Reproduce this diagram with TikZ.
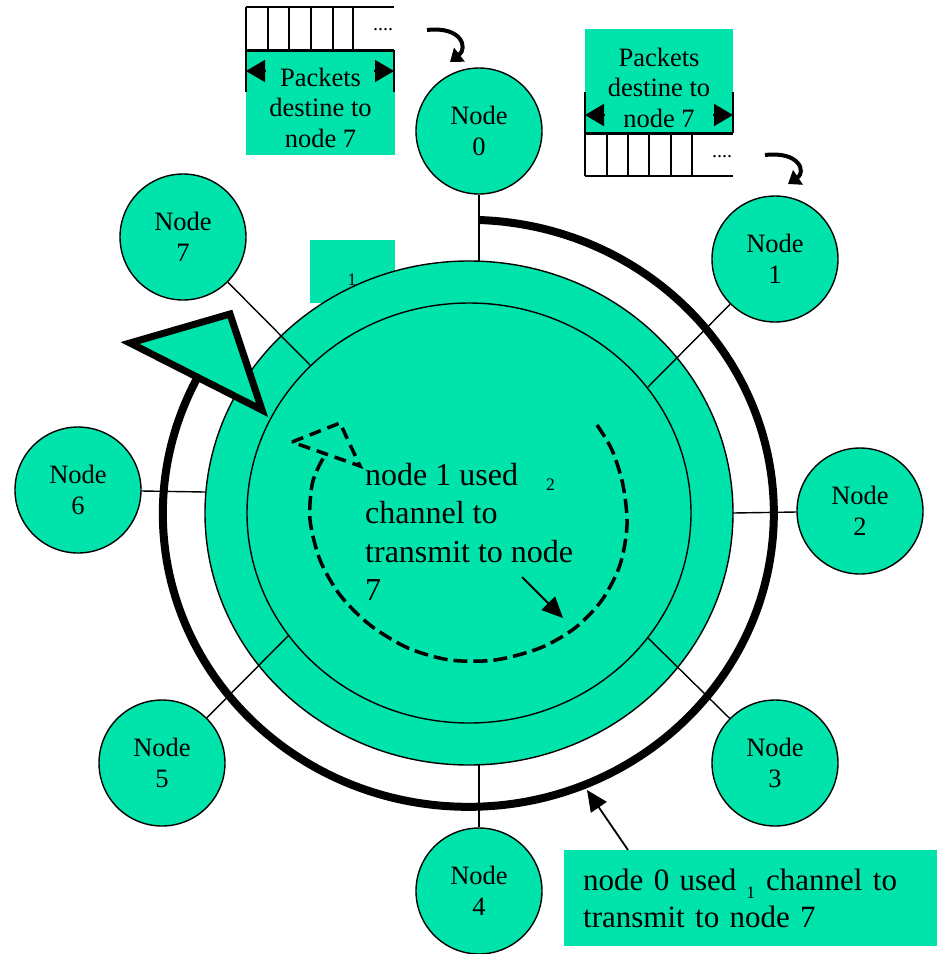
\documentclass[tikz,border=0pt]{standalone}
\usepackage{fontspec}
\setmainfont{Liberation Serif}
\usetikzlibrary{positioning,arrows.meta}
\definecolor{ringgreen}{RGB}{0,227,170}

\begin{document}
\begin{tikzpicture}[x=1pt,y=-1pt,
	station/.style={circle,draw=black,line width=1.4pt,fill=ringgreen,minimum size=126pt,inner sep=0pt,align=center,font=\fontsize{26.5}{31}\selectfont},
	link/.style={line width=1.4pt},
	tagtext/.style={inner sep=0pt,align=center,font=\fontsize{26.5}{30.5}\selectfont},
	cell/.style={line width=2pt},
	dimhead/.style={line width=1.5pt,-{Triangle[length=19pt,width=22pt]}},
	curlarrow/.style={line width=4pt,-{Triangle[length=12pt,width=17pt]}},
	dash line/.style={line width=3.5pt,dash pattern=on 14pt off 6pt}]

			\useasboundingbox (0,0) rectangle (937,954);

			%box behind the ring
			\fill[ringgreen] (310,240) rectangle (395,303);

			%ring
			\filldraw[fill=ringgreen,line width=1.4pt] (469,513) ellipse [x radius=264pt,y radius=252pt];
			\draw[line width=1.4pt] (469,513) ellipse [x radius=222pt,y radius=210pt];
			\node[inner sep=0pt,anchor=base,font=\fontsize{17.5}{17.5}\selectfont] (lam1) at (352,285) {1};

			%ring points
			\coordinate (r0) at (479,261);
			\coordinate (r1) at (648,387);
			\coordinate (r2) at (733,513);
			\coordinate (r3) at (648,638);
			\coordinate (r4) at (479,765);
			\coordinate (r5) at (289,635);
			\coordinate (r6) at (205,492);
			\coordinate (r7) at (310,365);

			%nodes
			\node[station] (n0) at (479,131) {Node\\0};
			\node[station] (n1) at (775,259) {Node\\1};
			\node[station] (n2) at (860,511) {Node\\2};
			\node[station] (n3) at (775,763) {Node\\3};
			\node[station] (n4) at (479,891) {Node\\4};
			\node[station] (n5) at (162,763) {Node\\5};
			\node[station] (n6) at (78,490) {Node\\6};
			\node[station] (n7) at (183,237) {Node\\7};

			%edges
			\draw[link] (n0) -- (r0);
			\draw[link] (n1) -- (r1);
			\draw[link] (n2) -- (r2);
			\draw[link] (n3) -- (r3);
			\draw[link] (n4) -- (r4);
			\draw[link] (n5) -- (r5);
			\draw[link] (n6) -- (r6);
			\draw[link] (n7) -- (r7);

			%lambda 1 path of node 0
			\draw[line width=8pt] (479,220) arc[start angle=88,end angle=-208,x radius=305.5pt,y radius=293.5pt];
			\filldraw[fill=ringgreen,line width=7pt] (130,343) -- (230,314) -- (262,410) -- cycle;

			%lambda 2 path of node 1
			\draw[dash line] plot[smooth] coordinates {(597,425) (612,450) (623,485) (627,525) (620,565) (602,600) (575,628) (540,648) (495,660) (450,660) (408,648) (370,625) (340,595) (320,560) (310,520) (312,485) (319,466) (326,454)};
			\draw[line width=3.5pt,dash pattern=on 12pt off 7pt] (292,442) -- (340,423) -- (360,466) -- cycle;

			\node[inner sep=0pt,anchor=north west,align=left,font=\fontsize{32}{38.5}\selectfont] (msg1) at (365,463)
				{node 1 used\hspace{28pt}\raisebox{-5pt}{\fontsize{17.5}{17.5}\selectfont 2}\\channel to\\transmit to node\\7};
			\coordinate (m1a) at (522,577);
			\coordinate (m1b) at (563,618);
			\draw[line width=1.8pt,-{Triangle[length=21pt,width=19pt]}] (m1a) -- (m1b);

			%note of node 0
			\node[fill=ringgreen,anchor=north west,minimum width=373pt,minimum height=96pt,text width=335pt,inner xsep=19pt,inner ysep=0pt,align=left,font=\fontsize{31}{37}\selectfont] (note0) at (564,850)
				{node 0 used\hspace{10pt}\raisebox{-8pt}{\fontsize{17.5}{17.5}\selectfont 1}\hspace{11pt}channel to\\transmit to node 7};
			\coordinate (arc0) at (587,790);
			\draw[line width=1.8pt,-{Triangle[length=21pt,width=19pt]}] (note0.north west) ++(64,0) -- (arc0);

			%queue of node 0
			\fill[ringgreen] (246,50) rectangle (395,155);
			\draw[cell] (246,7) -- (394,7);
			\draw[line width=3pt] (246,50) -- (394,50);
			\foreach \x in {246,268,289,311,333,353}
				\draw[cell] (\x,7) -- (\x,50);
			\node[inner sep=0pt,anchor=base,font=\fontsize{20}{20}\selectfont] (dotsA) at (383,30) {....};
			\draw[cell] (246,50) -- (246,92);
			\draw[cell] (394,50) -- (394,92);
			\draw[dimhead] (266,71) -- (246,71);
			\draw[dimhead] (374,71) -- (394,71);
			\node[tagtext] (pkA) at (320.5,107.5) {Packets\\destine to\\node 7};
			\coordinate (qA1) at (427,30);
			\coordinate (qA2) at (450,62);
			\draw[curlarrow] (qA1) .. controls (462,26) and (468,48) .. (qA2);

			%queue of node 1
			\fill[ringgreen] (585,29) rectangle (733,133);
			\draw[line width=3pt] (585,133) -- (733,133);
			\draw[cell] (585,176) -- (733,176);
			\foreach \x in {585,607,628,649,671,692}
				\draw[cell] (\x,133) -- (\x,176);
			\node[inner sep=0pt,anchor=base,font=\fontsize{20}{20}\selectfont] (dotsB) at (722,157) {....};
			\draw[cell] (585,92) -- (585,133);
			\draw[cell] (733,92) -- (733,133);
			\draw[dimhead] (605,115) -- (585,115);
			\draw[dimhead] (713,115) -- (733,115);
			\node[tagtext] (pkB) at (659,87.5) {Packets\\destine to\\node 7};
			\coordinate (qB1) at (765,155);
			\coordinate (qB2) at (788,184);
			\draw[curlarrow] (qB1) .. controls (800,151) and (806,172) .. (qB2);
		\end{tikzpicture}
\end{document}
